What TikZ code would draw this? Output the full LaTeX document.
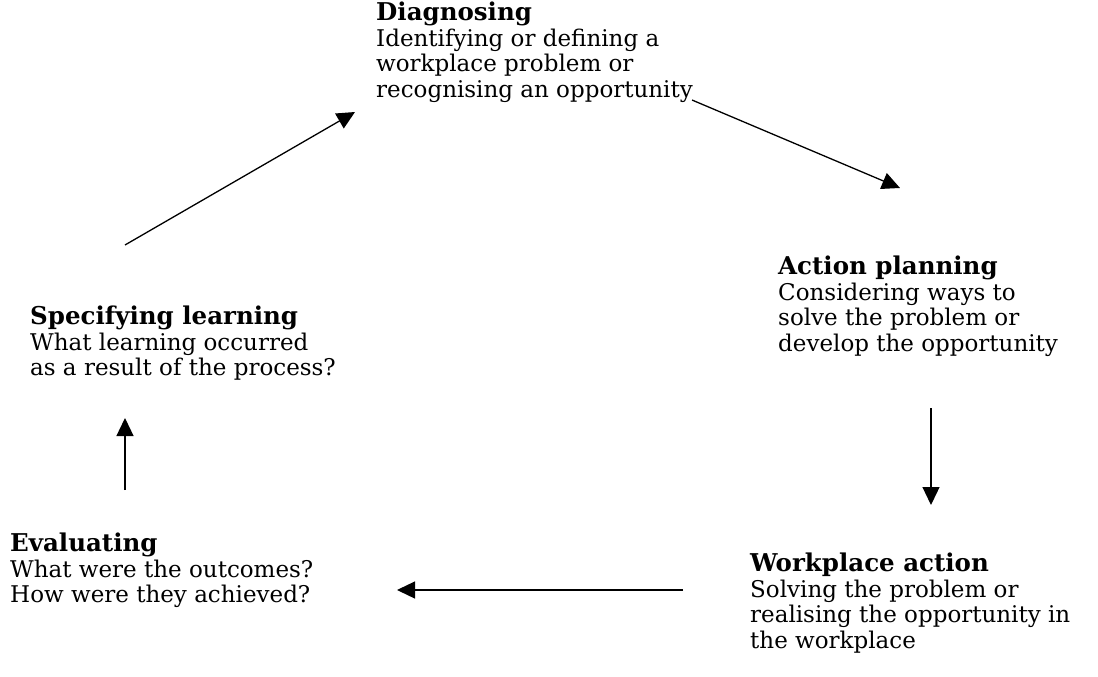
\documentclass[tikz,border=0pt]{standalone}
\usepackage{fontspec}
\setmainfont{DejaVu Serif}
\usetikzlibrary{arrows.meta}
\newcommand{\stagetitle}[1]{{\fontsize{24.5}{25.5}\selectfont\bfseries #1}}
\tikzset{
	stage/.style={anchor=north west, inner sep=0pt, align=left, font=\fontsize{23}{25.5}\selectfont},
	cyclearrow/.style={line width=1.3pt, -{Triangle[length=18pt, width=17pt]}}
}
\begin{document}
\begin{tikzpicture}[x=1pt, y=-1pt]
				\useasboundingbox (0,0) rectangle (1098,677);
				% stages
				\node[stage] (diag) at (376,2) {\stagetitle{Diagnosing}\\Identifying or defining a\\workplace problem or\\recognising an opportunity};
				\node[stage] (plan) at (778,256) {\stagetitle{Action planning}\\Considering ways to\\solve the problem or\\develop the opportunity};
				\node[stage] (work) at (750,553) {\stagetitle{Workplace action}\\Solving the problem or\\realising the opportunity in\\the workplace};
				\node[stage] (eval) at (10,533) {\stagetitle{Evaluating}\\What were the outcomes?\\How were they achieved?};
				\node[stage] (spec) at (30,306) {\stagetitle{Specifying learning}\\What learning occurred\\as a result of the process?};
				% arrow ends
				\coordinate (specout) at (125,245);
				\coordinate (diagin) at (355,112);
				\coordinate (diagout) at (692,100);
				\coordinate (planin) at (900,188);
				\coordinate (planout) at (931,408);
				\coordinate (workin) at (931,505);
				\coordinate (workout) at (683,590);
				\coordinate (evalin) at (397,590);
				\coordinate (evalout) at (125,490);
				\coordinate (specin) at (125,418);
				% arrows
				\draw[cyclearrow] (specout) -- (diagin);
				\draw[cyclearrow] (diagout) -- (planin);
				\draw[cyclearrow] (planout) -- (workin);
				\draw[cyclearrow] (workout) -- (evalin);
				\draw[cyclearrow] (evalout) -- (specin);
			\end{tikzpicture}
\end{document}
